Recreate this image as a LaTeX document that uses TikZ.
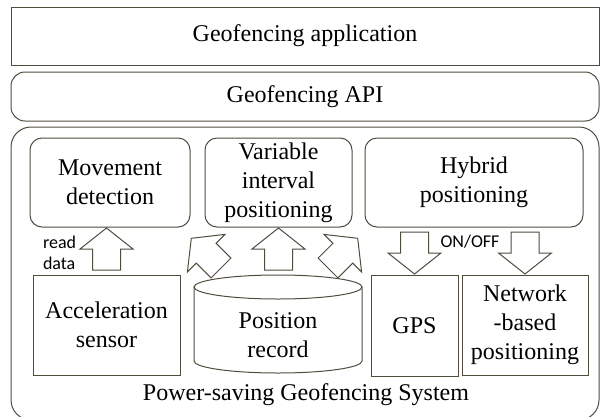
\documentclass[tikz,border=0pt]{standalone}
\usepackage{fontspec}
\setmainfont{Liberation Serif}
\newfontfamily\notefont{Carlito}
\usetikzlibrary{calc}
\definecolor{boxline}{RGB}{80,76,62}

\begin{document}
\begin{tikzpicture}[x=1pt,y=-1pt,
	every node/.style={font=\fontsize{24}{29}\selectfont,align=center,inner sep=0,outer sep=0},
	plain/.style={draw=boxline,line width=1pt},
	roundbox/.style={plain,rounded corners=12pt},
	note/.style={font=\notefont\fontsize{18}{21}\selectfont},
	fatarrow/.pic={\draw[boxline,line width=1pt] (0,-14) -- (21,-14) -- (21,-26.5) -- (42,0) -- (21,26.5) -- (21,14) -- (0,14) -- cycle;}]
	\useasboundingbox (0,0) rectangle (600,416);
	% layers
	\node[plain,minimum width=588,minimum height=58] (app) at (305,36) {Geofencing application};
	\node[plain,rounded corners=14pt,minimum width=588,minimum height=49] (api) at (305,96.5) {Geofencing API};
	\node[plain,rounded corners=20pt,minimum width=588,minimum height=293] (sys) at (305,273.5) {};
	\node (syslabel) at (306,395) {Power-saving Geofencing System};
	% upper modules
	\node[roundbox,minimum width=160,minimum height=89] (move) at (110,182.5) {Movement\\detection};
	\node[roundbox,minimum width=147,minimum height=89] (vip) at (278.5,182.5) {Variable\\interval\\positioning};
	\node[roundbox,minimum width=218,minimum height=89] (hybrid) at (474,182.5) {Hybrid\\positioning};
	% lower modules
	\node[plain,minimum width=147,minimum height=100] (accel) at (106.5,325) {Acceleration\\sensor};
	\node[plain,minimum width=87,minimum height=101] (gps) at (414.5,325.5) {GPS};
	\node[plain,minimum width=126,minimum height=100] (net) at (525,325) {Network\\-based\\positioning};
	\draw[plain] (278,287) ellipse[x radius=84,y radius=12];
	\draw[plain] (194,287) -- (194,361) arc[start angle=180,end angle=0,x radius=84,y radius=12] -- (362,287);
	\node (posrec) at (278,335) {Position\\record};
	% arrows
	\pic[rotate=90] at ($(accel.north)+(0,-5)$) {fatarrow};
	\pic[rotate=90] at ($(vip.south)+(0,43)$) {fatarrow};
	\pic[rotate=135] at ($(vip.south)+(-57.5,41)$) {fatarrow};
	\pic[rotate=45] at ($(vip.south)+(49.5,41)$) {fatarrow};
	\pic[rotate=-90] at ($(gps.north)+(0,-43)$) {fatarrow};
	\pic[rotate=-90] at ($(net.north)+(0,-43)$) {fatarrow};
	\node[note,align=left,anchor=west] (readlbl) at (43,252.5) {read\\data};
	\node[note] (onoff) at (470,242) {ON/OFF};
\end{tikzpicture}
\end{document}
